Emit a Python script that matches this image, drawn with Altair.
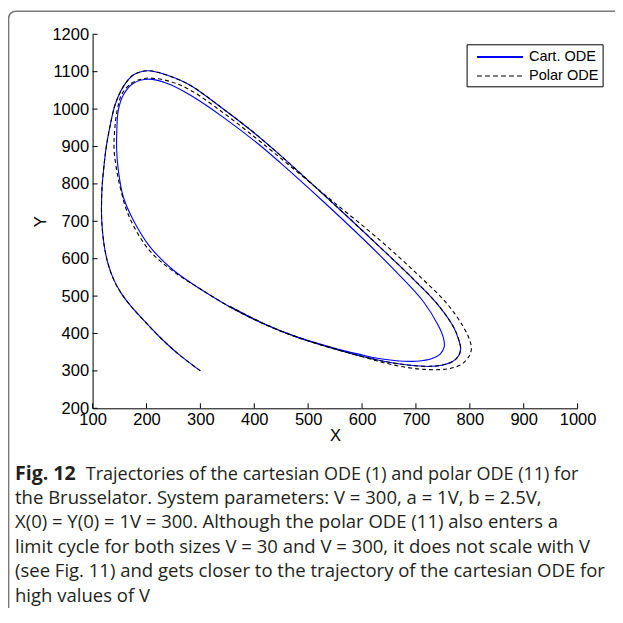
import altair as alt
import pandas as pd

series_names = ["Cart. ODE", "Polar ODE"]

cart_x = [300, 260, 225, 195, 170, 152, 138, 128, 121, 117, 116.5, 117.5, 122, 126, 132, 141.6, 157, 175.6,
          203, 237.5, 281, 340, 395, 448, 520, 600, 650, 695.5, 739, 769.7, 779, 783, 779, 768, 750, 725,
          690, 650, 605, 541, 479, 417, 355, 300, 250, 206.6, 175.6, 157, 147.7, 144.7, 145, 147.7,
          157, 175.6, 203.4, 237.6, 281, 342.7, 404.7, 448, 525, 602.6, 664.6, 714, 742, 751, 752.5,
          745, 730, 702, 660, 620, 602, 541, 479, 417, 355]
cart_y = [300, 344, 390, 435, 475, 510, 548, 590, 640, 700, 740, 790, 860, 905, 952, 1011, 1060, 1091,
          1102.6, 1091, 1064, 1003, 942, 877, 783, 676, 608, 545, 480, 417.6, 385, 360, 340, 325, 316, 312,
          315, 323, 337, 362, 390, 426, 471, 519, 569, 631.7, 703, 765, 837, 890, 944, 997,
          1037.6, 1069, 1080, 1069, 1037.6, 978, 910, 857, 757, 652, 563, 485, 420, 388, 364,
          345, 333, 326, 328, 336, 342, 364, 391, 427, 472]

polar_x = [300, 260, 225, 195, 170, 152, 138, 128, 121, 117, 116.5, 117.5, 122, 126, 132, 141.6, 157, 175.6,
           203, 237.5, 281, 340, 395, 448, 520, 600, 650, 695.5, 739, 769.7, 779, 783, 779, 768, 750, 725,
           690, 650, 605, 541, 479, 417, 355, 300, 250, 205, 168, 149.6, 140, 141, 146, 155, 172, 190,
           206.6, 243.7, 281, 342.7, 400, 448, 535, 633.6, 701.7, 757.5, 788, 799, 803, 798, 785,
           765, 745, 715, 680, 640, 605, 541, 479, 417, 355]
polar_y = [300, 344, 390, 435, 475, 510, 548, 590, 640, 700, 740, 790, 860, 905, 952, 1011, 1060, 1091,
           1102.6, 1091, 1064, 1003, 942, 877, 783, 676, 608, 545, 480, 417.6, 385, 360, 340, 325, 316, 312,
           315, 323, 337, 362, 390, 426, 471, 519, 566, 623, 712, 801, 890, 944, 1000, 1042, 1069, 1080,
           1083, 1074, 1051, 990, 926, 870, 766, 649, 560, 480, 417.6, 385, 360, 338, 318,
           307, 303.5, 304, 310, 322, 336, 363, 391, 427, 472]

x_ticks = [100, 200, 300, 400, 500, 600, 700, 800, 900, 1000]
y_ticks = [200, 300, 400, 500, 600, 700, 800, 900, 1000, 1100, 1200]

caption_bold = "Fig. 12"
caption_first = "Trajectories of the cartesian ODE (1) and polar ODE (11) for"
caption_rest = [
    "the Brusselator. System parameters: V = 300, a = 1V, b = 2.5V,",
    "X(0) = Y(0) = 1V = 300. Although the polar ODE (11) also enters a",
    "limit cycle for both sizes V = 30 and V = 300, it does not scale with V",
    "(see Fig. 11) and gets closer to the trajectory of the cartesian ODE for",
    "high values of V",
]

W, H = 485, 374
AX_FONT = "Liberation Sans"
CAP_FONT = "Open Sans"
CAP_SIZE = 18.5

xs = alt.Scale(domain=[100, 1000], nice=False, zero=False)
ys = alt.Scale(domain=[200, 1200], nice=False, zero=False)

cart_df = pd.DataFrame({"x": cart_x, "y": cart_y, "order": range(len(cart_x)), "series": series_names[0]})
polar_df = pd.DataFrame({"x": polar_x, "y": polar_y, "order": range(len(polar_x)), "series": series_names[1]})

x_axis = alt.Axis(values=x_ticks, title="X", ticks=False, grid=False, labelFlush=False, format="d",
                  labelOverlap=False, labelPadding=3, titlePadding=0)
y_axis = alt.Axis(values=y_ticks, title="Y", ticks=False, grid=False, labelFlush=False, format="d",
                  labelOverlap=False, labelPadding=4, titlePadding=3)

cart_line = alt.Chart(cart_df).mark_line(interpolate="catmull-rom", color="#0000ff", strokeWidth=1.1).encode(
    x=alt.X("x:Q", scale=xs, axis=x_axis),
    y=alt.Y("y:Q", scale=ys, axis=y_axis),
    order=alt.Order("order:Q"),
)
polar_line = alt.Chart(polar_df).mark_line(interpolate="catmull-rom", color="#000000", strokeWidth=1.1,
                                           strokeDash=[4, 3]).encode(
    x=alt.X("x:Q", scale=xs, axis=x_axis),
    y=alt.Y("y:Q", scale=ys, axis=y_axis),
    order=alt.Order("order:Q"),
)

xt = alt.Chart(pd.DataFrame({"v": x_ticks})).mark_rule(color="black", strokeWidth=1).encode(
    x=alt.X("v:Q", scale=xs, axis=x_axis), y=alt.value(H), y2=alt.value(H - 5))
yt = alt.Chart(pd.DataFrame({"v": y_ticks})).mark_rule(color="black", strokeWidth=1).encode(
    y=alt.Y("v:Q", scale=ys, axis=y_axis), x=alt.value(0), x2=alt.value(5))

one = pd.DataFrame({"a": [0]})
border = alt.Chart(one).mark_rect(fill="white", fillOpacity=0, stroke="#7a7a7a", strokeWidth=1.6,
                                  cornerRadius=7).encode(
    x=alt.value(-84), x2=alt.value(570), y=alt.value(-23), y2=alt.value(620))

leg_box = alt.Chart(one).mark_rect(fill="white", stroke="black", strokeWidth=1).encode(
    x=alt.value(374.5), x2=alt.value(510.5), y=alt.value(10.5), y2=alt.value(52.5))
leg_cart = alt.Chart(one).mark_rule(color="#0000ff", strokeWidth=2).encode(
    x=alt.value(384.4), x2=alt.value(430.4), y=alt.value(22.7))
leg_polar = alt.Chart(one).mark_rule(color="black", strokeWidth=1, strokeDash=[5, 3]).encode(
    x=alt.value(384.4), x2=alt.value(430.4), y=alt.value(41.7))
leg_t1 = alt.Chart(one).mark_text(text=series_names[0], font=AX_FONT, fontSize=14.5, align="left",
                                  baseline="middle", color="black").encode(x=alt.value(436.4), y=alt.value(23))
leg_t2 = alt.Chart(one).mark_text(text=series_names[1], font=AX_FONT, fontSize=14.5, align="left",
                                  baseline="middle", color="black").encode(x=alt.value(436.4), y=alt.value(42))

cap_layers = []
base_y = 445.2
step = 24.4
cap_layers.append(alt.Chart(one).mark_text(text=caption_bold, font=CAP_FONT, fontSize=19.5, fontWeight="bold",
                                           align="left", baseline="alphabetic", color="#231f20").encode(
    x=alt.value(-77.6), y=alt.value(base_y)))
cap_layers.append(alt.Chart(one).mark_text(text=caption_first, font=CAP_FONT, fontSize=18,
                                           align="left", baseline="alphabetic", color="#231f20").encode(
    x=alt.value(-6.8), y=alt.value(base_y)))
for i, line in enumerate(caption_rest):
    cap_layers.append(alt.Chart(one).mark_text(text=line, font=CAP_FONT, fontSize=CAP_SIZE,
                                               align="left", baseline="alphabetic", color="#231f20").encode(
        x=alt.value(-77.6), y=alt.value(base_y + step * (i + 1))))

chart = alt.layer(border, cart_line, polar_line, xt, yt, leg_box, leg_cart, leg_polar, leg_t1, leg_t2,
                  *cap_layers).properties(
    width=W, height=H,
    autosize=alt.AutoSizeParams(type="none"),
    padding={"left": 84.6, "top": 26.3, "right": 37.4, "bottom": 199.7},
    background="white",
).configure_view(stroke=None).configure_axis(
    domainColor="black", domainWidth=1, labelFont=AX_FONT, labelFontSize=16.5, labelColor="black",
    titleFont=AX_FONT, titleFontSize=16.5, titleFontWeight="normal", titleColor="black",
)

chart.save("out.html", embed_options={"renderer": "svg", "actions": False})
